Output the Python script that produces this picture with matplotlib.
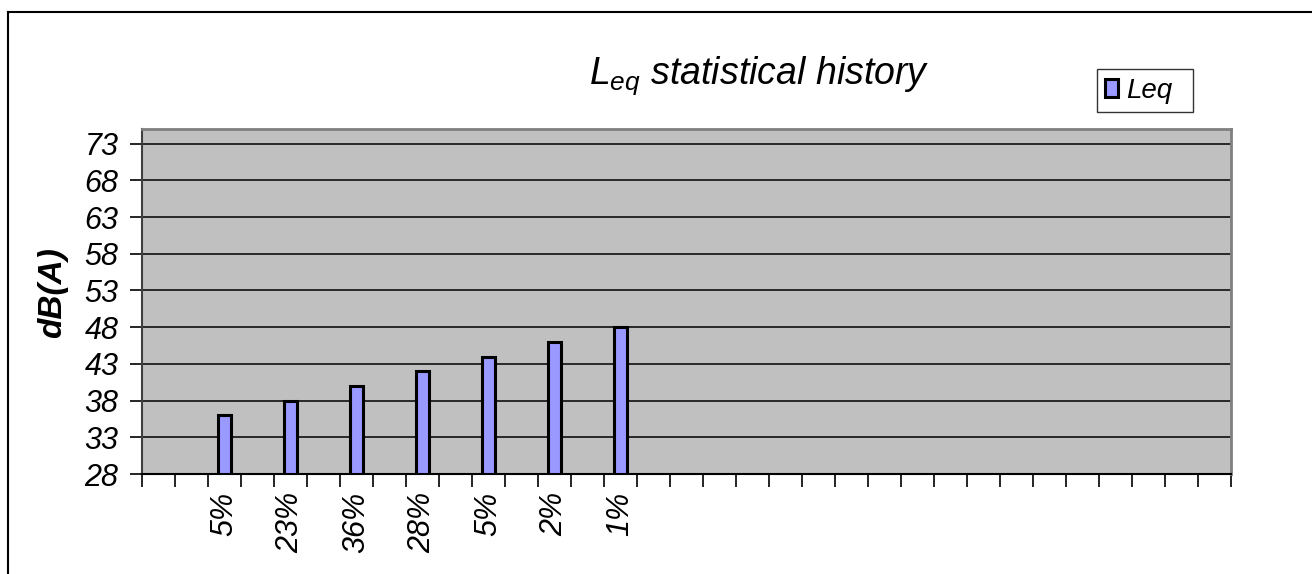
import numpy as np
import matplotlib
matplotlib.use('Agg')
import matplotlib.pyplot as plt
from matplotlib.lines import Line2D

plt.rcParams['font.family'] = ['Liberation Sans', 'DejaVu Sans']
plt.rcParams['mathtext.fontset'] = 'custom'
plt.rcParams['mathtext.rm'] = 'Liberation Sans:italic'
plt.rcParams['mathtext.it'] = 'Liberation Sans:italic'

# data
levels = [36, 38, 40, 42, 44, 46, 48]          # dB(A)
shares = ['5%', '23%', '36%', '28%', '5%', '2%', '1%']
n_slots = 33
y_ticks = list(range(28, 74, 5))

# bars sit in every other category slot, starting at the third one
slots = np.arange(len(levels)) * 2 + 2

W, H = 1312, 574
fig = plt.figure(figsize=(W / 100, H / 100), dpi=100)
ax = fig.add_axes([142 / W, 1 - 474 / H, (1231 - 142) / W, (474 - 129) / H])
ax.set_facecolor('#C0C0C0')

ax.bar(slots, np.array(levels) - 28, bottom=28, width=0.42,
       color='#9999FF', edgecolor='black', linewidth=2.2, zorder=3,
       label='Leq')

ax.set_xlim(-0.5, n_slots - 0.5)
ax.set_ylim(28, 75)
ax.set_yticks(y_ticks)
ax.set_yticklabels([str(v) for v in y_ticks], fontsize=22, style='italic')
ax.yaxis.grid(True, color='black', linewidth=1.1, zorder=1)
ax.set_axisbelow(True)

ax.set_xticks(np.arange(n_slots + 1) - 0.5)
ax.set_xticklabels([])
ax.set_xticks(slots, minor=True)
ax.set_xticklabels(shares, minor=True, rotation=90, fontsize=22, style='italic',
                   va='top')
ax.tick_params(axis='x', which='major', direction='out', length=9, width=1.2, color='black')
ax.tick_params(axis='x', which='minor', length=0, pad=13)
ax.tick_params(axis='y', direction='out', length=9, width=1.2, pad=8)

for s in ['top', 'right']:
    ax.spines[s].set_color('#808080')
    ax.spines[s].set_linewidth(2)
ax.spines['left'].set_color('#404040')
ax.spines['left'].set_linewidth(1.5)
ax.spines['bottom'].set_color('black')
ax.spines['bottom'].set_linewidth(1.5)

fig.text(53 / W, 1 - 293 / H, 'dB(A)', rotation=90, fontsize=24,
         fontweight='bold', style='italic', ha='center', va='center')

fig.text(759 / W, 1 - 84 / H, r'$L_{eq}$ statistical history', fontsize=27,
         style='italic', ha='center', va='baseline')

leg = ax.legend(loc='center', bbox_to_anchor=(1097 / W, 1 - 113 / H, 96 / W, 45 / H),
                bbox_transform=fig.transFigure, mode='expand',
                prop={'style': 'italic', 'size': 20},
                frameon=True, fancybox=False, handlelength=0.45, handleheight=0.6,
                handletextpad=0.3, borderpad=0.3, borderaxespad=0)
leg.get_frame().set_edgecolor('black')
leg.get_frame().set_linewidth(1.0)

# chart border (left and top edges only visible)
fig.add_artist(Line2D([8 / W, 8 / W], [0, 1 - 12 / H], transform=fig.transFigure,
                      color='black', linewidth=1.5))
fig.add_artist(Line2D([8 / W, 1], [1 - 12 / H, 1 - 12 / H], transform=fig.transFigure,
                      color='black', linewidth=1.5))

fig.savefig('out.png', dpi=100)
